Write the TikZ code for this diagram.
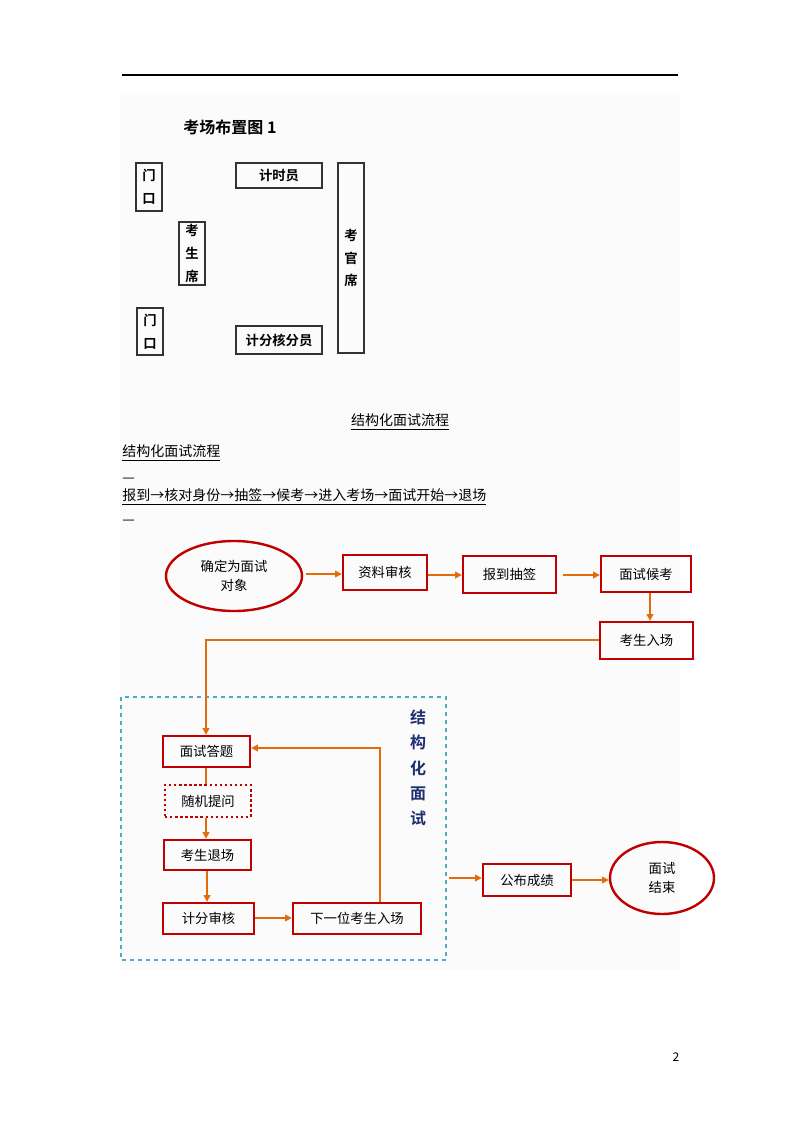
\documentclass[tikz,border=0pt]{standalone}
\usepackage{fontspec}
\setmainfont{Noto Sans CJK SC}
\newfontfamily\cjkb{Noto Sans CJK SC Bold}
\usetikzlibrary{arrows.meta,shapes.geometric,fit}
\definecolor{bred}{HTML}{C00000}
\definecolor{aor}{HTML}{E36C0A}
\definecolor{dblue}{HTML}{4BACC6}
\definecolor{navy}{HTML}{1F2F6F}
\tikzset{
  lay/.style={draw=black!80,line width=0.9pt,inner sep=0pt},
  layt/.style={font=\cjkb\fontsize{10}{17}\selectfont,align=center},
  fbox/.style={draw=bred,line width=1.8pt,inner sep=0pt},
  ftx/.style={font=\fontsize{10}{12}\selectfont},
  fell/.style={draw=bred,line width=1.8pt,ellipse,inner sep=0pt,font=\fontsize{10}{14}\selectfont,align=center},
  arr/.style={draw=aor,line width=1.1pt,-{Triangle[length=5pt,width=5pt]}},
  ln/.style={draw=aor,line width=1.1pt},
  doc/.style={font=\fontsize{10.5}{12}\selectfont,anchor=west,inner sep=0pt}
}
\begin{document}
\begin{tikzpicture}[x=0.75pt,y=-0.75pt]
\useasboundingbox (0,0) rectangle (800,1132);
\fill[black!1.5] (120,95) rectangle (680,970);
\draw[line width=1pt] (122,75) -- (678,75);
% layout
\node[font=\cjkb\fontsize{12}{14}\selectfont] (t1) at (230,127) {考场布置图 1};
\node[lay,fit={(136,163)(162,211)}] (d1) {};
\node[layt] at (d1.center) {门\\口};
\node[lay,fit={(236,163)(322,188)}] (js) {};
\node[layt] at (js.center) {计时员};
\node[lay,fit={(338,163)(364,353)}] (kg) {};
\node[layt] at (kg.center) {考\\官\\席};
\node[lay,fit={(179,222)(205,285)}] (ks) {};
\node[layt] at (ks.center) {考\\生\\席};
\node[lay,fit={(137,308)(163,355)}] (d2) {};
\node[layt] at (d2.center) {门\\口};
\node[lay,fit={(236,326)(322,354)}] (jf) {};
\node[layt] at (jf.center) {计分核分员};
% text
\node[font=\fontsize{10.5}{12}\selectfont,inner sep=0pt] (h1) at (400,422) {\underline{结构化面试流程}};
\node[doc] (h2) at (122,453) {\underline{结构化面试流程}};
\node[doc] (h3) at (122,480) {—};
\node[doc] (h4) at (122,497) {\underline{报到→核对身份→抽签→候考→进入考场→面试开始→退场}};
\node[doc] (h5) at (122,522) {—};
% flow
\node[fell,minimum width=136*0.75pt,minimum height=70*0.75pt] (e1) at (234,576) {确定为面试\\对象};
\node[fbox,fit={(343,555)(427,590)}] (b1) {}; \node[ftx] at (b1.center) {资料审核};
\node[fbox,fit={(463,556)(556,593)}] (b2) {}; \node[ftx] at (b2.center) {报到抽签};
\node[fbox,fit={(601,556)(691,592)}] (b3) {}; \node[ftx] at (b3.center) {面试候考};
\node[fbox,fit={(600,622)(693,659)}] (b4) {}; \node[ftx] at (b4.center) {考生入场};
\draw[arr] (e1.east |- 0,574) ++(3,0) -- (b1.west |- 0,574);
\draw[arr] (b1.east |- 0,575) -- (b2.west |- 0,575);
\draw[arr] (563,575) coordinate (c0) -- (b3.west |- c0);
\draw[arr] (b3.south -| 650,0) -- (b4.north -| 650,0);
% structured box
\draw[dblue,dashed,line width=0.8pt] (121,697) rectangle (446,960);
\node[font=\cjkb\fontsize{12}{19}\selectfont,text=navy,align=center] (lab) at (418,768) {结\\构\\化\\面\\试};
\node[fbox,fit={(163,736)(250,767)}] (s1) {}; \node[ftx] at (s1.center) {面试答题};
\node[draw=bred,line width=1.8pt,dotted,inner sep=0pt,fit={(165,785)(251,817)}] (s2) {}; \node[ftx] at (s2.center) {随机提问};
\node[fbox,fit={(164,840)(251,870)}] (s3) {}; \node[ftx] at (s3.center) {考生退场};
\node[fbox,fit={(163,903)(254,934)}] (s4) {}; \node[ftx] at (s4.center) {计分审核};
\node[fbox,fit={(293,903)(421,934)}] (s5) {}; \node[ftx] at (s5.center) {下一位考生入场};
\draw[arr] (b4.west |- 0,640) -- (206,640) -- (s1.north -| 206,0);
\draw[ln] (s1.south -| 206,0) -- (s2.north -| 206,0);
\draw[arr] (s2.south -| 206,0) -- (s3.north -| 206,0);
\draw[arr] (s3.south -| 207,0) -- (s4.north -| 207,0);
\draw[arr] (s4.east |- 0,918) -- (s5.west |- 0,918);
\draw[arr] (s5.north -| 380,0) -- (380,748) -- (s1.east |- 0,748);
\node[fbox,fit={(483,864)(571,896)}] (p1) {}; \node[ftx] at (p1.center) {公布成绩};
\node[fell,minimum width=104*0.75pt,minimum height=72*0.75pt] (e2) at (662,878) {面试\\结束};
\coordinate (dx) at (449,878);
\draw[arr] (dx) -- (p1.west |- dx);
\draw[arr] (p1.east |- 0,880) -- (e2.west |- 0,880);
\node[font=\fontsize{9}{11}\selectfont] (pg) at (676,1057) {2};
\end{tikzpicture}
\end{document}
